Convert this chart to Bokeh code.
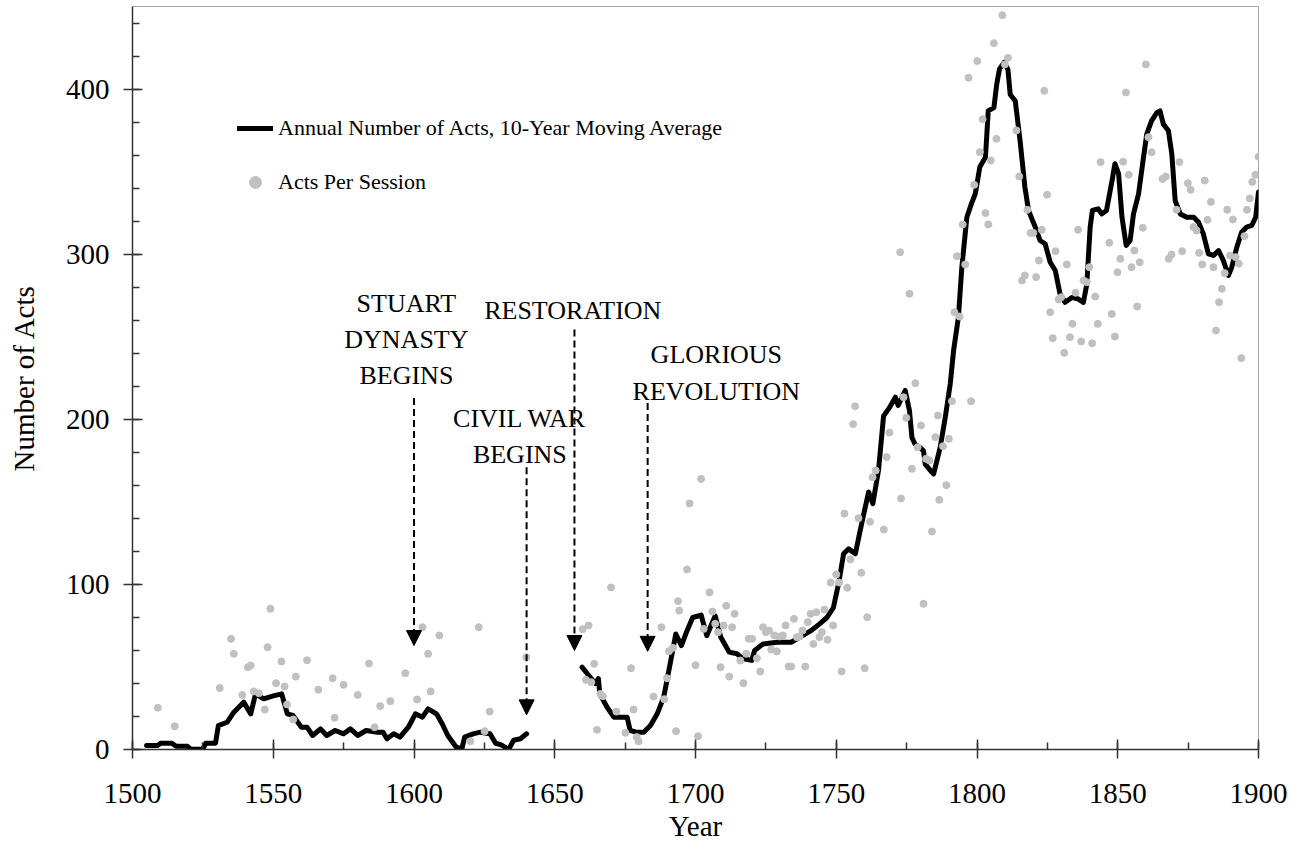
import math
from bokeh.plotting import figure
from bokeh.models import (ColumnDataSource, Range1d, SingleIntervalTicker, Legend,
                          LegendItem, Arrow, NormalHead)
from bokeh.core.properties import value
from bokeh.embed import file_html
from bokeh.resources import INLINE

FONT = "Liberation Serif"
NAN = float("nan")

# 10-year moving average of annual number of acts (gap during Civil War / Interregnum)
ma_years = [
    1505, 1509, 1510, 1514, 1515.5, 1519.5, 1520.6, 1525, 1526, 1529.5,
    1530.5, 1533.6, 1536, 1539.5, 1542, 1543.7, 1546.6, 1550, 1553, 1555,
    1557, 1560, 1562, 1564, 1566.8, 1569, 1572, 1575, 1577.4, 1580,
    1583, 1587, 1589, 1590.4, 1592.8, 1595, 1598, 1600.5, 1603, 1605,
    1608, 1610, 1612, 1615, 1617, 1618, 1621, 1623.6, 1627, 1629,
    1631, 1633.6, 1635.4, 1637.8, 1640,
    1650,
    1659.7, 1662, 1664.4, 1665.5, 1666, 1668.6, 1671, 1673, 1675.7, 1676.8,
    1679, 1681.6, 1684, 1686.4, 1688.7, 1691, 1693, 1695, 1697, 1699,
    1702, 1704, 1707, 1709, 1712, 1714.7, 1717, 1720, 1721, 1724,
    1729, 1734, 1737, 1741, 1744, 1746.7, 1749, 1751, 1752.6, 1754.4,
    1756.8, 1758.5, 1760.3, 1761.5, 1763, 1765, 1766.8, 1769, 1771, 1772,
    1774.5, 1776, 1776.9, 1778, 1779.8, 1781, 1781.6, 1784, 1784.6, 1786.9,
    1788.7, 1790.5, 1791.7, 1793.4, 1794.6, 1796.4, 1798, 1799.4, 1801, 1803,
    1804, 1806, 1807, 1808, 1809.7, 1811, 1811.8, 1813.6, 1815.3, 1817,
    1818.3, 1820.7, 1822.4, 1824.2, 1826, 1827.8, 1829.5, 1831.3, 1833.7, 1836,
    1837.8, 1839, 1840.2, 1841, 1843, 1844.3, 1846, 1848, 1849, 1850.3,
    1851.5, 1853, 1854.4, 1855.6, 1857.4, 1859, 1860.3, 1862, 1863.9, 1865,
    1866.2, 1868, 1869.2, 1870.4, 1872.2, 1874.5, 1877, 1878.7, 1880.4, 1882.2,
    1884, 1885.8, 1887.5, 1889.3, 1890.5, 1892.3, 1894, 1895.8, 1897.6, 1899,
    1900,
]
ma_acts = [
    2.5, 2.5, 3.8, 3.8, 2.0, 2.0, 0.2, 0.2, 3.8, 3.8,
    14.5, 16.5, 22.6, 28.7, 21.6, 33.7, 30.7, 32.5, 33.7, 21.6,
    20.6, 13.5, 13.5, 8.5, 12.5, 8.5, 11.5, 9.5, 12.5, 8.5,
    11.5, 10.5, 10.5, 6.5, 9.5, 7.5, 13.5, 21.6, 19.6, 24.6,
    21.6, 15.6, 8.5, 1.4, 0.4, 7.5, 9.5, 10.5, 9.5, 3.8,
    2.8, 0.0, 5.6, 6.5, 9.5,
    NAN,
    49.9, 45.0, 40.0, 43.0, 33.7, 25.6, 19.6, 19.6, 19.6, 11.5,
    10.5, 10.5, 14.5, 21.6, 31.7, 52.0, 70.0, 63.0, 72.0, 80.0,
    81.5, 69.0, 81.0, 68.0, 59.0, 58.0, 55.0, 54.0, 60.0, 64.0,
    65.0, 65.0, 68.0, 72.0, 76.0, 80.0, 86.0, 102.0, 118.6, 121.6,
    118.6, 132.7, 146.8, 156.0, 149.0, 169.0, 202.0, 207.5, 213.5, 208.5,
    217.6, 205.5, 189.0, 185.0, 183.0, 181.0, 173.0, 168.0, 167.0, 183.0,
    201.0, 221.6, 242.0, 262.0, 292.0, 322.6, 330.7, 336.8, 353.0, 359.0,
    387.0, 389.0, 403.0, 412.5, 416.6, 412.0, 397.0, 393.0, 369.0, 341.0,
    326.7, 316.6, 308.5, 306.5, 295.3, 290.3, 276.0, 271.0, 274.0, 273.0,
    271.0, 282.0, 316.6, 326.7, 327.7, 324.6, 326.7, 345.0, 355.0, 349.0,
    322.6, 305.5, 308.5, 324.6, 336.8, 357.0, 373.0, 381.0, 386.0, 387.0,
    379.0, 375.0, 361.0, 332.7, 324.6, 322.6, 322.6, 319.6, 312.5, 300.4,
    299.4, 302.4, 296.4, 287.3, 292.3, 304.4, 313.5, 316.6, 317.6, 322.6,
    337.8,
]

# Acts per session
session_years = [
    1509.0, 1515.0, 1531.0, 1535.0, 1536.0, 1539.0, 1541.0, 1542.0, 1543.1, 1544.9,
    1547.0, 1548.0, 1549.0, 1551.0, 1552.9, 1554.0, 1554.9, 1557.1, 1558.0, 1562.0,
    1566.0, 1571.1, 1571.8, 1575.0, 1580.0, 1584.0, 1586.0, 1588.0, 1591.6, 1596.9,
    1601.1, 1603.0, 1605.0, 1605.9, 1609.0, 1620.0, 1623.0, 1625.1, 1626.9, 1639.9,
    1659.9, 1661.1, 1662.0, 1663.0, 1664.0, 1665.0, 1666.2, 1667.1, 1670.0, 1671.9,
    1675.1, 1677.1, 1678.0, 1679.1, 1679.8, 1685.1, 1687.9, 1688.9, 1689.9, 1690.6,
    1692.0, 1693.1, 1693.8, 1694.2, 1697.0, 1697.9, 1700.0, 1700.9, 1702.0, 1702.9,
    1705.0, 1706.0, 1707.0, 1708.0, 1708.9, 1710.0, 1710.9, 1712.0, 1713.0, 1713.9,
    1715.9, 1717.0, 1718.0, 1718.9, 1720.1, 1721.8, 1723.0, 1724.0, 1725.0, 1726.1,
    1726.9, 1728.0, 1728.9, 1729.9, 1731.1, 1732.0, 1733.1, 1734.0, 1735.0, 1736.0,
    1737.0, 1738.0, 1739.0, 1739.9, 1740.9, 1741.9, 1742.9, 1744.0, 1744.9, 1745.8,
    1746.9, 1748.0, 1748.9, 1750.0, 1751.0, 1751.9, 1752.9, 1753.9, 1755.0, 1756.0,
    1756.7, 1757.9, 1758.9, 1760.1, 1761.0, 1762.0, 1762.9, 1764.0, 1766.9, 1767.9,
    1768.9, 1772.7, 1773.0, 1773.9, 1774.9, 1776.0, 1776.9, 1778.1, 1778.9, 1780.1,
    1781.0, 1781.9, 1783.1, 1784.0, 1785.2, 1786.1, 1786.6, 1787.9, 1789.1, 1790.0,
    1791.1, 1792.0, 1792.9, 1793.8, 1794.9, 1795.8, 1797.0, 1797.9, 1799.0, 1800.1,
    1801.0, 1802.0, 1803.0, 1804.0, 1804.9, 1806.0, 1806.9, 1809.0, 1809.9, 1811.0,
    1814.0, 1815.0, 1816.0, 1817.0, 1817.9, 1819.0, 1820.0, 1821.0, 1822.0, 1823.0,
    1823.9, 1824.9, 1826.0, 1826.9, 1827.9, 1829.0, 1829.9, 1831.0, 1831.9, 1833.0,
    1833.9, 1835.0, 1835.9, 1837.0, 1837.9, 1839.0, 1839.9, 1840.9, 1842.0, 1842.9,
    1843.9, 1847.0, 1847.9, 1849.0, 1849.9, 1850.9, 1851.9, 1852.9, 1853.9, 1854.9,
    1855.9, 1856.9, 1857.8, 1858.9, 1860.0, 1860.9, 1862.0, 1865.9, 1867.1, 1868.1,
    1869.1, 1870.9, 1871.9, 1872.9, 1874.9, 1875.9, 1876.9, 1878.0, 1878.9, 1880.0,
    1880.9, 1881.9, 1883.1, 1884.0, 1884.9, 1886.0, 1887.0, 1888.0, 1888.9, 1889.9,
    1890.9, 1891.9, 1893.0, 1893.9, 1895.0, 1895.9, 1896.9, 1897.8, 1898.9, 1900.0,
]
session_acts = [
    25.3, 14.1, 37.2, 67.1, 58.0, 33.1, 49.9, 50.9, 35.2, 34.1,
    24.2, 62.0, 85.3, 40.2, 53.3, 38.2, 27.3, 18.2, 44.2, 54.1,
    36.2, 43.2, 19.2, 39.2, 33.1, 52.1, 13.5, 26.3, 29.3, 46.2,
    30.3, 74.1, 58.0, 35.2, 69.1, 5.0, 74.1, 11.1, 23.0, 55.9,
    72.9, 42.2, 75.2, 40.8, 51.9, 11.9, 33.7, 32.3, 98.2, 23.0,
    10.1, 49.3, 24.2, 7.5, 5.0, 32.1, 74.1, 30.5, 43.2, 59.6,
    61.6, 11.1, 89.9, 84.2, 109.1, 149.1, 51.1, 8.1, 164.0, 73.1,
    95.2, 83.6, 76.2, 71.1, 49.9, 75.2, 87.1, 44.2, 74.1, 82.2,
    53.9, 40.2, 58.0, 67.1, 67.1, 55.3, 47.3, 74.1, 71.1, 72.1,
    60.6, 69.1, 59.4, 68.5, 69.1, 75.2, 50.3, 50.3, 79.2, 68.1,
    68.5, 72.1, 50.3, 77.2, 82.2, 64.0, 83.2, 68.1, 71.1, 84.8,
    66.5, 101.2, 75.2, 106.1, 101.2, 47.3, 143.0, 98.0, 115.2, 197.2,
    208.0, 140.2, 107.1, 49.3, 80.2, 138.0, 165.0, 169.1, 133.3, 177.2,
    192.1, 301.4, 152.1, 213.5, 201.0, 276.2, 170.1, 222.0, 183.2, 196.4,
    88.3, 176.2, 175.2, 132.1, 189.3, 202.4, 151.3, 183.8, 160.2, 188.3,
    211.1, 265.0, 299.0, 262.4, 318.2, 294.0, 407.1, 211.1, 342.2, 417.2,
    362.0, 382.0, 325.1, 318.2, 357.0, 428.1, 370.1, 445.0, 415.2, 419.2,
    375.2, 347.3, 284.2, 287.3, 327.1, 313.1, 313.1, 286.3, 296.4, 315.0,
    399.2, 336.2, 265.0, 249.3, 302.0, 272.7, 274.1, 240.4, 294.0, 249.9,
    258.0, 276.8, 315.0, 247.3, 284.2, 283.2, 292.3, 246.2, 274.5, 258.0,
    356.0, 307.1, 264.0, 250.3, 289.3, 297.4, 356.2, 398.2, 348.3, 292.3,
    302.4, 268.5, 295.3, 316.2, 415.2, 371.1, 362.0, 345.8, 347.3, 297.4,
    300.0, 327.1, 356.0, 302.0, 343.2, 339.2, 316.6, 314.5, 301.0, 294.0,
    344.8, 321.0, 331.9, 292.3, 253.9, 271.1, 279.2, 288.7, 327.1, 299.4,
    321.2, 298.4, 294.4, 237.2, 311.1, 327.1, 334.0, 344.0, 348.3, 359.2,
]

# Historical events: arrow year, arrow start (top) and tip values
event_years = [1600, 1640, 1657, 1683]
event_top = [213.0, 171.0, 254.5, 210.0]
event_tip = [63.0, 21.0, 60.0, 59.5]

# Event captions, one entry per text line
caption_lines = ["STUART", "DYNASTY", "BEGINS", "CIVIL WAR", "BEGINS",
                 "RESTORATION", "GLORIOUS", "REVOLUTION"]
caption_x = [1597.3, 1597.3, 1597.3, 1637.6, 1637.6, 1656.4, 1707.4, 1707.4]
caption_y = [270.3, 248.5, 226.7, 200.6, 178.8, 266.1, 239.4, 217.0]

x_tick_step = 50
y_tick_step = 100

p = figure(width=1293, height=851, x_range=Range1d(1500, 1900), y_range=Range1d(0, 450.3),
           output_backend="svg", toolbar_location=None, title=None,
           min_border_left=132, min_border_right=35, min_border_top=6, min_border_bottom=102)
p.background_fill_color = "white"
p.border_fill_color = "white"
p.outline_line_color = "#a6a6a6"
p.outline_line_width = 1
p.xgrid.visible = False
p.ygrid.visible = False

line_r = p.line(ma_years, ma_acts, line_width=5, line_color="black",
                line_join="round", line_cap="round")
dots_r = p.scatter(session_years, session_acts, size=7, fill_color="#c0c0c0",
                   line_color="#c0c0c0")

arrow_src = ColumnDataSource(dict(x0=event_years, y0=event_top, x1=event_years, y1=event_tip))
p.add_layout(Arrow(end=NormalHead(size=15, fill_color="black", line_color="black"),
                   x_start="x0", y_start="y0", x_end="x1", y_end="y1", source=arrow_src,
                   line_dash="7 4", line_width=2, line_color="black"))

p.text(x=caption_x, y=caption_y, text=caption_lines, text_font=value(FONT),
       text_font_size="26px", text_align="center", text_baseline="alphabetic",
       text_color="black")

legend = Legend(items=[
    LegendItem(label="Annual Number of Acts, 10-Year Moving Average", renderers=[line_r]),
    LegendItem(label="Acts Per Session", renderers=[dots_r]),
], location=(105, 552))
legend.border_line_alpha = 0
legend.background_fill_alpha = 0
legend.padding = 0
legend.margin = 0
legend.spacing = 24
legend.glyph_width = 36
legend.glyph_height = 30
legend.label_height = 30
legend.label_standoff = 5
legend.label_text_font = FONT
legend.label_text_font_size = "22px"
legend.label_text_color = "black"
p.add_layout(legend)

for ax in (p.xaxis[0], p.yaxis[0]):
    ax.axis_line_color = "#333333"
    ax.axis_line_width = 1.5
    ax.major_tick_line_color = "#333333"
    ax.major_tick_line_width = 1.5
    ax.minor_tick_line_color = "#333333"
    ax.minor_tick_line_width = 1.5
    ax.major_tick_in = 10
    ax.major_tick_out = 9
    ax.minor_tick_in = 7
    ax.minor_tick_out = 0
    ax.major_label_text_font = FONT
    ax.major_label_text_font_size = "29px"
    ax.major_label_text_color = "black"
    ax.axis_label_text_font = FONT
    ax.axis_label_text_font_size = "29px"
    ax.axis_label_text_font_style = "normal"
    ax.axis_label_text_color = "black"

p.xaxis.ticker = SingleIntervalTicker(interval=x_tick_step, num_minor_ticks=2)
p.yaxis.ticker = SingleIntervalTicker(interval=y_tick_step, num_minor_ticks=5)
p.xaxis.axis_label = "Year"
p.yaxis.axis_label = "Number of Acts"
p.xaxis.major_label_standoff = 25
p.yaxis.major_label_standoff = 14
p.xaxis.axis_label_standoff = 4
p.yaxis.axis_label_standoff = 23

open("out.html", "w").write(file_html(p, INLINE))
